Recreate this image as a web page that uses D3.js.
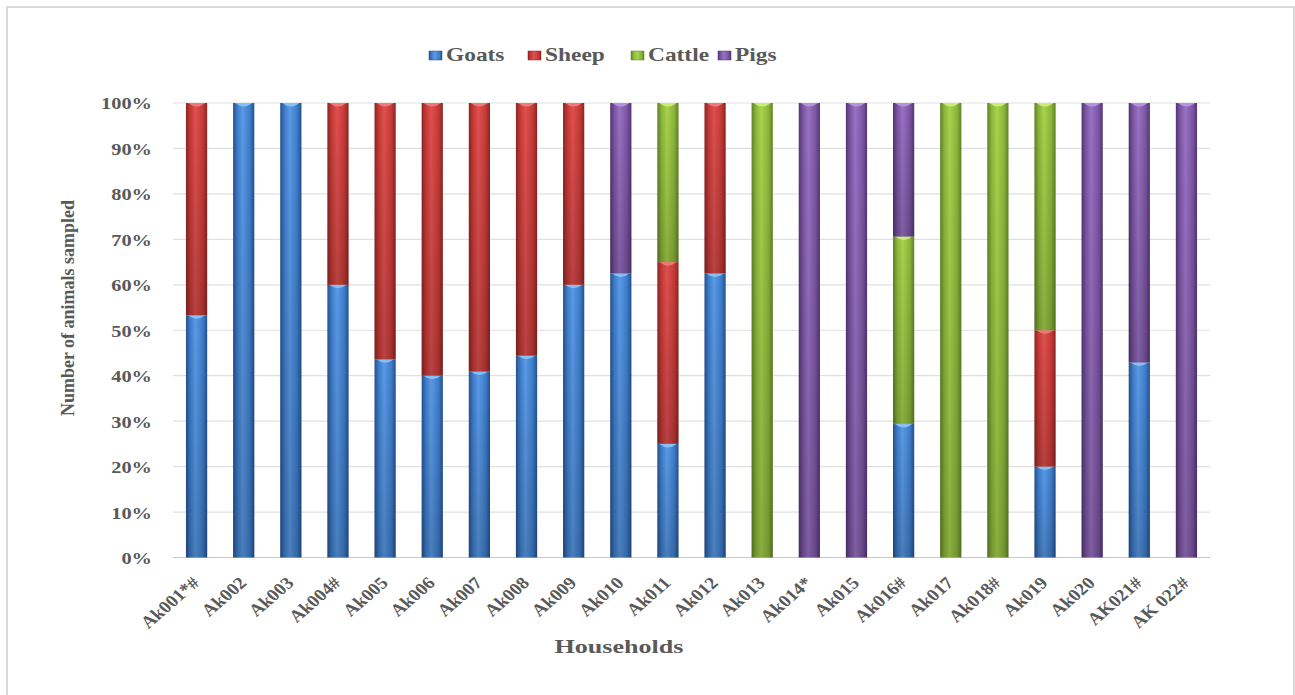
<!DOCTYPE html>
<html><head><meta charset="utf-8">
<script src="https://cdn.jsdelivr.net/npm/d3@7"></script>
<style>html,body{margin:0;padding:0;background:#fff;}svg{display:block;}</style>
</head><body>
<svg id="chart" width="1295" height="695"></svg>
<script>
const households = ["Ak001*#","Ak002","Ak003","Ak004#","Ak005","Ak006","Ak007","Ak008","Ak009","Ak010","Ak011","Ak012","Ak013","Ak014*","Ak015","Ak016#","Ak017","Ak018#","Ak019","Ak020","AK021#","AK 022#"];
const seriesNames = ["Goats","Sheep","Cattle","Pigs"];
const goats  = [53.3,100,100,60,43.6,40,40.9,44.4,60,62.5,25,62.5,0,0,0,29.4,0,0,20,0,42.9,0];
const sheep  = [46.7,0,0,40,56.4,60,59.1,55.6,40,0,40,37.5,0,0,0,0,0,0,30,0,0,0];
const cattle = [0,0,0,0,0,0,0,0,0,0,35,0,100,0,0,41.2,100,100,50,0,0,0];
const pigs   = [0,0,0,0,0,0,0,0,0,37.5,0,0,0,100,100,29.4,0,0,0,100,57.1,100];
const yTicks = [0,10,20,30,40,50,60,70,80,90,100];

const colors = {
  Goats:{light:"#5a9ae6",mid:"#3d7cc9",dark:"#24508f",cap:"#8cc4f5"},
  Sheep:{light:"#e05050",mid:"#c53a35",dark:"#8e2424",cap:"#f08080"},
  Cattle:{light:"#a8d44c",mid:"#8bb53a",dark:"#5f8225",cap:"#d2f07a"},
  Pigs:{light:"#9a72c4",mid:"#7b55a3",dark:"#523574",cap:"#b89ae0"}
};

const svg = d3.select("#chart");
const font = "'Liberation Serif','Times New Roman',serif";
const textCol = "#595959";

svg.append("rect").attr("x",7).attr("y",7).attr("width",1287).attr("height",690)
  .attr("fill","#fff").attr("stroke","#d9d9d9").attr("stroke-width",2);

const defs = svg.append("defs");
seriesNames.forEach(s=>{
  const c = colors[s];
  const g = defs.append("linearGradient").attr("id","g-"+s).attr("x1","0").attr("x2","1").attr("y1","0").attr("y2","0");
  g.append("stop").attr("offset","0%").attr("stop-color",c.dark);
  g.append("stop").attr("offset","20%").attr("stop-color",c.mid);
  g.append("stop").attr("offset","45%").attr("stop-color",c.light);
  g.append("stop").attr("offset","80%").attr("stop-color",c.mid);
  g.append("stop").attr("offset","100%").attr("stop-color",c.dark);
  const v = defs.append("linearGradient").attr("id","v-"+s).attr("x1","0").attr("x2","0").attr("y1","0").attr("y2","1");
  v.append("stop").attr("offset","0%").attr("stop-color","#000").attr("stop-opacity",0);
  v.append("stop").attr("offset","100%").attr("stop-color","#000").attr("stop-opacity",0.18);
});

const pLeft = 173, pRight = 1210, pTop = 103, pBottom = 557.5;
const x = d3.scaleBand().domain(households).range([pLeft,pRight]).paddingInner(0.55).paddingOuter(0.275);
const y = d3.scaleLinear().domain([0,100]).range([pBottom,pTop]);

// gridlines
svg.append("g").selectAll("line").data(yTicks).join("line")
  .attr("x1",pLeft).attr("x2",pRight).attr("y1",d=>y(d)).attr("y2",d=>y(d))
  .attr("stroke",d=>d===0?"#c8c8c8":"#e0e0e0").attr("stroke-width",1.2);

// y axis labels
const yAxis = d3.axisLeft(y).tickValues(yTicks).tickFormat(d=>d+"%").tickSize(0).tickPadding(0);
const ya = svg.append("g").attr("transform",`translate(152,0)`).call(yAxis);
ya.select(".domain").remove();
ya.selectAll("text").attr("x",0).attr("transform","scale(1.2,1)")
  .attr("font-family",font).attr("font-weight","bold").attr("font-size","17px").attr("fill",textCol).attr("dy","0.35em");

// stacked data
const rows = households.map((h,i)=>({h,Goats:goats[i],Sheep:sheep[i],Cattle:cattle[i],Pigs:pigs[i]}));
const stack = d3.stack().keys(seriesNames)(rows);
const bw = x.bandwidth();
stack.forEach(layer=>{
  const s = layer.key;
  const g = svg.append("g");
  const segs = layer.filter(d=>d[1]-d[0]>0);
  g.selectAll("rect.b").data(segs).join("rect").attr("class","b")
    .attr("x",d=>x(d.data.h)).attr("width",bw)
    .attr("y",d=>y(d[1])).attr("height",d=>y(d[0])-y(d[1]))
    .attr("fill","url(#g-"+s+")");
  g.selectAll("rect.v").data(segs).join("rect").attr("class","v")
    .attr("x",d=>x(d.data.h)).attr("width",bw)
    .attr("y",d=>y(d[1])).attr("height",d=>y(d[0])-y(d[1]))
    .attr("fill","url(#v-"+s+")");
  g.selectAll("path.cap").data(segs).join("path").attr("class","cap")
    .attr("d",d=>{const x0=x(d.data.h)+2,x1=x(d.data.h)+bw-2,yy=y(d[1]);
      return `M${x0},${yy}L${x1},${yy}Q${(x0+x1)/2},${yy+7} ${x0},${yy}Z`;})
    .attr("fill",colors[s].cap).attr("opacity",0.9);
});

// x labels
const xa = svg.append("g");
xa.selectAll("text").data(households).join("text")
  .attr("transform",d=>`translate(${x(d)+bw/2+4},${584}) scale(1.15,1) rotate(-45)`)
  .attr("text-anchor","end")
  .attr("font-family",font).attr("font-weight","bold").attr("font-size","17px").attr("fill",textCol)
  .text(d=>d);

// axis titles
svg.append("text").attr("transform","translate(619,653) scale(1.45,1)").attr("text-anchor","middle")
  .attr("font-family",font).attr("font-weight","bold").attr("font-size","18px").attr("fill",textCol).text("Households");
svg.append("text").attr("transform","translate(74,308) rotate(-90)").attr("text-anchor","middle")
  .attr("font-family",font).attr("font-weight","bold").attr("font-size","18px").attr("fill",textCol).text("Number of animals  sampled");

// legend
const legX = [429,528,631,718];
const leg = svg.append("g");
seriesNames.forEach((s,i)=>{
  leg.append("rect").attr("x",legX[i]).attr("y",51).attr("width",13).attr("height",9)
    .attr("fill","url(#g-"+s+")").attr("stroke",colors[s].dark).attr("stroke-width",0.5);
  leg.append("text").attr("transform",`translate(${legX[i]+17},61) scale(1.3,1)`)
    .attr("font-family",font).attr("font-weight","bold").attr("font-size","18px").attr("fill",textCol).text(s);
});
</script>
</body></html>
